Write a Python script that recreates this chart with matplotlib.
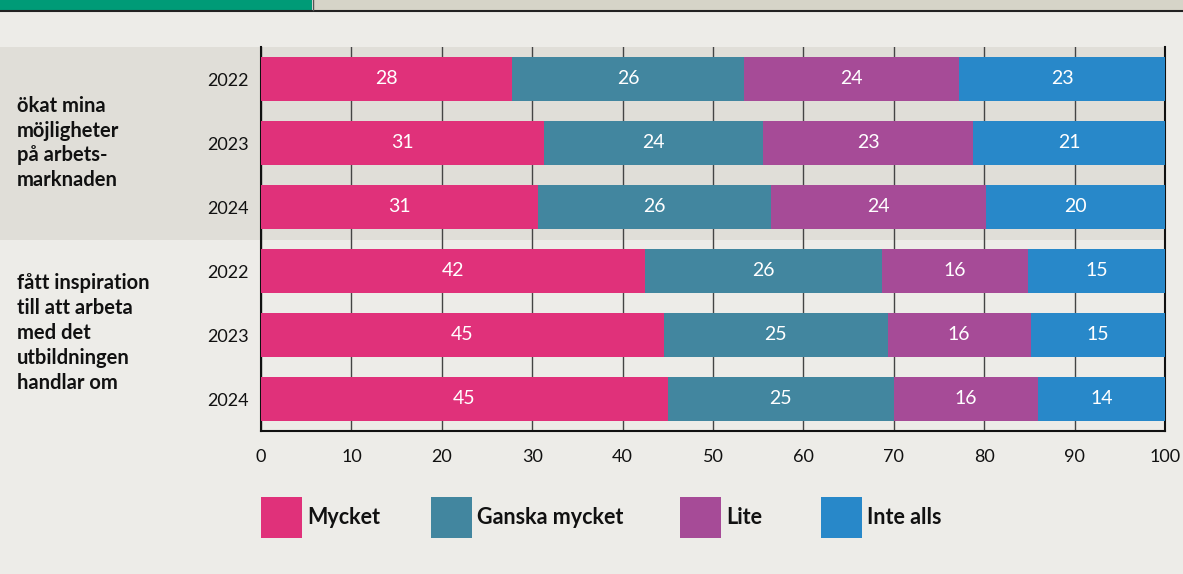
import matplotlib.pyplot as plt
from matplotlib.patches import Rectangle
import numpy as np

plt.rcParams['font.family'] = ['Lato', 'DejaVu Sans']

# data
groups = ['ökat mina\nmöjligheter\npå arbets-\nmarknaden',
          'fått inspiration\ntill att arbeta\nmed det\nutbildningen\nhandlar om']
years = ['2022', '2023', '2024', '2022', '2023', '2024']
categories = ['Mycket', 'Ganska mycket', 'Lite', 'Inte alls']
mycket = [28, 31, 31, 42, 45, 45]
ganska = [26, 24, 26, 26, 25, 25]
lite = [24, 23, 24, 16, 16, 16]
inte = [23, 21, 20, 15, 15, 14]
colors = ['#e0317a', '#42869f', '#a64b97', '#2888c9']

BG = '#edece8'
BAND = '#e0ded8'
W, H = 1183, 574

fig = plt.figure(figsize=(W / 100, H / 100), dpi=100, facecolor=BG)

def px(x, y):
    return x / W, 1 - y / H

# header strip
fig.patches.append(Rectangle((0, 1 - 10 / H), 312 / W, 10 / H, transform=fig.transFigure,
                             facecolor='#009b77', edgecolor='none'))
fig.patches.append(Rectangle((314 / W, 1 - 10 / H), 1 - 314 / W, 10 / H, transform=fig.transFigure,
                             facecolor='#d6d4c8', edgecolor='none'))
fig.lines.append(plt.Line2D([0, 1], [1 - 10.5 / H] * 2, transform=fig.transFigure, color='#222', lw=1.5))
fig.lines.append(plt.Line2D([313 / W] * 2, [1 - 10 / H, 1], transform=fig.transFigure, color='#555', lw=1))

# shaded band behind first group
fig.patches.append(Rectangle((0, 1 - 240 / H), 1165 / W, 193 / H, transform=fig.transFigure,
                             facecolor=BAND, edgecolor='none', zorder=0))

ax = fig.add_axes([261 / W, 1 - 431 / H, 904 / W, 384 / H])
ax.set_facecolor('none')
ax.set_zorder(2)

series = np.array([mycket, ganska, lite, inte], dtype=float)
totals = series.sum(axis=0)
shares = series / totals * 100
ypos = np.arange(len(years))
left = np.zeros(len(years))
for vals, shr, col in zip(series, shares, colors):
    ax.barh(ypos, shr, left=left, height=0.7, color=col, zorder=3)
    for y, v, l, s in zip(ypos, vals, left, shr):
        ax.text(l + s / 2, y, f'{int(v)}', ha='center', va='center', color='white',
                fontsize=14, zorder=4)
    left += shr

ax.set_xlim(0, 100)
ax.set_ylim(5.5, -0.5)
ax.set_xticks(range(0, 101, 10))
ax.set_yticks(ypos)
ax.set_yticklabels(years)
ax.tick_params(axis='both', length=0, labelsize=13, colors='#111')
ax.tick_params(axis='x', pad=13)
ax.tick_params(axis='y', pad=9)
ax.grid(axis='x', color='#444', lw=1, zorder=1)
ax.spines['top'].set_visible(False)
for s in ['left', 'right', 'bottom']:
    ax.spines[s].set_color('#111')
    ax.spines[s].set_linewidth(1.5)

# group labels
fig.text(*px(17, 143), groups[0], ha='left', va='center', fontsize=14.5, fontweight='bold',
         linespacing=1.3, color='#111')
fig.text(*px(17, 333), groups[1], ha='left', va='center', fontsize=14.5, fontweight='bold',
         linespacing=1.3, color='#111')

# legend
sq_x = [261, 431, 680, 821]
for x, lab, col in zip(sq_x, categories, colors):
    fig.patches.append(Rectangle(px(x, 538), 41 / W, 41 / H, transform=fig.transFigure,
                                 facecolor=col, edgecolor='none'))
    fig.text(*px(x + 46, 518), lab, ha='left', va='center', fontsize=15.5,
             fontweight='bold', color='#111')

fig.savefig('out.png', dpi=100, facecolor=BG)
